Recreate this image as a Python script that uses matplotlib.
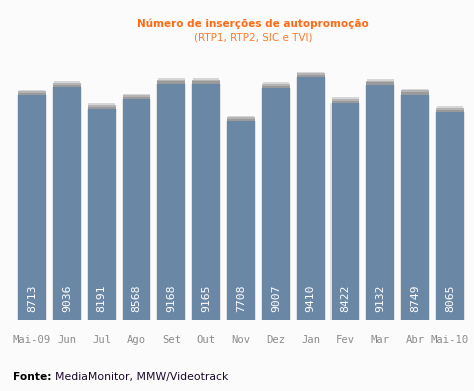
import numpy as np
import matplotlib.pyplot as plt

meses = ['Mai-09', 'Jun', 'Jul', 'Ago', 'Set', 'Out', 'Nov', 'Dez', 'Jan', 'Fev', 'Mar', 'Abr', 'Mai-10']
insercoes = [8713, 9036, 8191, 8568, 9168, 9165, 7708, 9007, 9410, 8422, 9132, 8749, 8065]

bg = '#fbfbfb'
fig = plt.figure(figsize=(4.74, 3.91), dpi=100, facecolor=bg)
ax = fig.add_axes([0, 71/391, 1, 260/391])
ax.set_facecolor(bg)

x = np.arange(len(meses))
# sombra clara a volta das barras
ax.bar(x, insercoes, width=0.86, color='#e2e2e2', zorder=1)
# tampa cinzenta no topo
ax.bar(x, 90, bottom=insercoes, width=0.80, color='#9a9a9a', zorder=2)
ax.bar(x, 70, bottom=np.array(insercoes) + 90, width=0.80, color='#b4b4b4', zorder=2)
ax.bar(x, 60, bottom=np.array(insercoes) + 160, width=0.76, color='#d6d6d6', zorder=2)
ax.bar(x, insercoes, width=0.80, color='#6a87a5', zorder=3)

for xi, v in zip(x, insercoes):
    ax.text(xi, 860, str(v), rotation=90, ha='center', va='center',
            color='white', fontsize=8.2, family='DejaVu Sans Mono', zorder=4)

ax.set_xlim(-32/34.83, (474-32)/34.83)
ax.set_ylim(0, 260*38.8)
ax.set_xticks(x)
ax.set_xticklabels(meses, fontsize=7.6, color='#8c8c8c', family='DejaVu Sans Mono')
ax.tick_params(length=0, pad=11)
ax.set_yticks([])
for s in ax.spines.values():
    s.set_visible(False)

fig.text(253/474, 1-24/391, 'Número de inserções de autopromoção', ha='center', va='center',
         fontsize=7.5, fontweight='bold', color='#ff6a13')
fig.text(253/474, 1-37/391, '(RTP1, RTP2, SIC e TVI)', ha='center', va='center',
         fontsize=7.5, color='#ff7a2a')
fig.text(13/474, 1-377/391, 'Fonte:', ha='left', va='center', fontsize=7.7,
         fontweight='bold', color='black')
fig.text(55/474, 1-377/391, 'MediaMonitor, MMW/Videotrack', ha='left', va='center',
         fontsize=7.8, color='#1a0a2a')

fig.savefig('out.png', dpi=100, facecolor=bg)
